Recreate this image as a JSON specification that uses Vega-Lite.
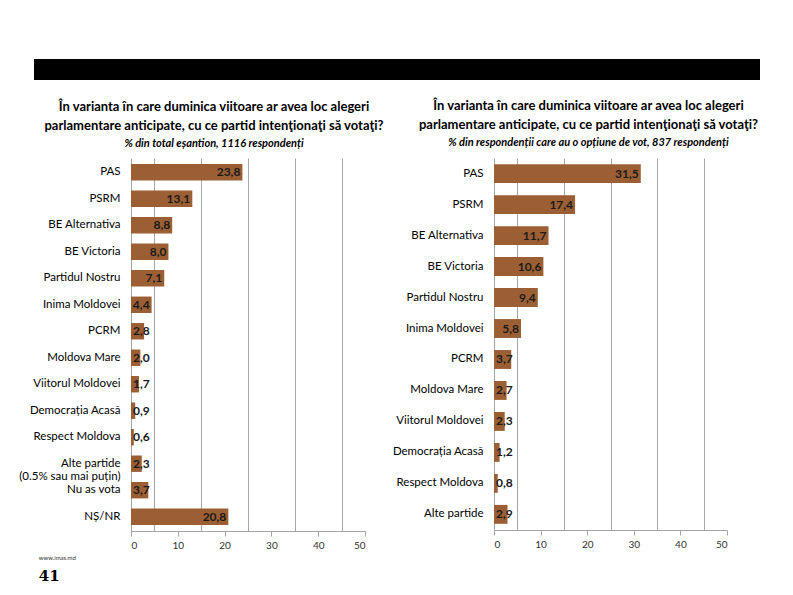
{
  "$schema": "https://vega.github.io/schema/vega-lite/v6.json",
  "background": "white",
  "padding": {"left": 18, "top": 59, "right": 10, "bottom": 5},
  "config": {
    "view": {"stroke": null},
    "font": "Lato",
    "locale": {"number": {"decimal": ",", "thousands": ".", "grouping": [3], "currency": ["", ""]}}
  },
  "datasets": {
    "banner": [{"start": 0, "end": 1}],
    "total": [
      {"party": "PAS", "pct": 23.8},
      {"party": "PSRM", "pct": 13.1},
      {"party": "BE Alternativa", "pct": 8.8},
      {"party": "BE Victoria", "pct": 8.0},
      {"party": "Partidul Nostru", "pct": 7.1},
      {"party": "Inima Moldovei", "pct": 4.4},
      {"party": "PCRM", "pct": 2.8},
      {"party": "Moldova Mare", "pct": 2.0},
      {"party": "Viitorul Moldovei", "pct": 1.7},
      {"party": "Democrația Acasă", "pct": 0.9},
      {"party": "Respect Moldova", "pct": 0.6},
      {"party": "Alte partide|(0.5% sau mai puțin)", "pct": 2.3},
      {"party": "Nu as vota", "pct": 3.7},
      {"party": "NȘ/NR", "pct": 20.8}
    ],
    "decided": [
      {"party": "PAS", "pct": 31.5},
      {"party": "PSRM", "pct": 17.4},
      {"party": "BE Alternativa", "pct": 11.7},
      {"party": "BE Victoria", "pct": 10.6},
      {"party": "Partidul Nostru", "pct": 9.4},
      {"party": "Inima Moldovei", "pct": 5.8},
      {"party": "PCRM", "pct": 3.7},
      {"party": "Moldova Mare", "pct": 2.7},
      {"party": "Viitorul Moldovei", "pct": 2.3},
      {"party": "Democrația Acasă", "pct": 1.2},
      {"party": "Respect Moldova", "pct": 0.8},
      {"party": "Alte partide", "pct": 2.9}
    ]
  },
  "columns": 1,
  "align": "none",
  "spacing": 20,
  "concat": [
    {
      "data": {"name": "banner"},
      "width": 629,
      "height": 21,
      "mark": {"type": "rect", "color": "black"},
      "encoding": {
        "x": {"field": "start", "type": "quantitative", "scale": {"domain": [0.13361, 1], "nice": false, "zero": false}, "axis": null},
        "x2": {"field": "end"}
      }
    },
    {
      "spacing": 7,
      "title": {
        "text": "www.imas.md",
        "subtitle": "41",
        "orient": "bottom",
        "anchor": "start",
        "frame": "bounds",
        "fontSize": 6,
        "fontWeight": "normal",
        "color": "#333333",
        "subtitleFont": "DejaVu Serif",
        "subtitleFontSize": 15,
        "subtitleFontWeight": "bold",
        "subtitleColor": "#000000",
        "subtitlePadding": 8,
        "dx": 20,
        "offset": 5
      },
      "hconcat": [
        {
          "data": {"name": "total"},
          "width": 234,
          "height": 373,
          "title": {
            "text": ["În varianta în care duminica viitoare ar avea loc alegeri", "parlamentare anticipate, cu ce partid intenţionaţi să votaţi?"],
            "subtitle": "% din total eșantion, 1116 respondenți",
            "anchor": "middle",
            "frame": "group",
            "dx": -34,
            "fontSize": 13,
            "fontWeight": "bold",
            "lineHeight": 19,
            "color": "#000000",
            "subtitleFontSize": 11,
            "subtitleFontStyle": "italic",
            "subtitleFontWeight": "bold",
            "subtitleColor": "#000000",
            "subtitlePadding": 5,
            "offset": 9
          },
          "encoding": {
            "y": {
              "field": "party",
              "type": "nominal",
              "sort": null,
              "scale": {"paddingInner": 0.38, "paddingOuter": 0.23},
              "axis": {
                "title": null,
                "ticks": false,
                "domain": true,
                "domainColor": "#a6a6a6",
                "labelFontSize": 11.5,
                "labelColor": "#000000",
                "labelPadding": 11,
                "labelLineHeight": 13,
                "labelExpr": "split(datum.label, '|')"
              }
            }
          },
          "resolve": {"axis": {"x": "independent"}},
          "layer": [
            {
              "mark": {"type": "bar", "color": "#9c5f34"},
              "encoding": {
                "x": {
                  "field": "pct",
                  "type": "quantitative",
                  "scale": {"domain": [0, 50], "nice": false},
                  "axis": {
                    "orient": "bottom",
                    "values": [0, 10, 20, 30, 40, 50],
                    "grid": false,
                    "title": null,
                    "domainColor": "#a6a6a6",
                    "tickColor": "#a6a6a6",
                    "tickSize": 5,
                    "labelFontSize": 10,
                    "labelColor": "#333333",
                    "labelPadding": 4
                  }
                }
              }
            },
            {
              "transform": [{"filter": "datum.pct >= 4"}],
              "mark": {"type": "text", "align": "right", "dx": -2, "fontSize": 12, "fontWeight": "bold", "color": "#1a1a1a"},
              "encoding": {
                "x": {
                  "field": "pct",
                  "type": "quantitative",
                  "axis": {
                    "orient": "top",
                    "values": [5, 15, 25, 35, 45],
                    "grid": true,
                    "gridColor": "#a6a6a6",
                    "gridWidth": 1,
                    "labels": false,
                    "ticks": false,
                    "domain": false,
                    "title": null
                  }
                },
                "text": {"field": "pct", "type": "quantitative", "format": ".1f"}
              }
            },
            {
              "transform": [{"filter": "datum.pct < 4"}],
              "mark": {"type": "text", "align": "left", "dx": 2, "fontSize": 12, "fontWeight": "bold", "color": "#1a1a1a"},
              "encoding": {
                "x": {"datum": 0, "type": "quantitative", "axis": null},
                "text": {"field": "pct", "type": "quantitative", "format": ".1f"}
              }
            }
          ]
        },
        {
          "data": {"name": "decided"},
          "width": 233,
          "height": 372,
          "title": {
            "text": ["În varianta în care duminica viitoare ar avea loc alegeri", "parlamentare anticipate, cu ce partid intenţionaţi să votaţi?"],
            "subtitle": "% din respondenții care au o opțiune de vot, 837 respondenți",
            "anchor": "middle",
            "frame": "group",
            "dx": -22,
            "fontSize": 13,
            "fontWeight": "bold",
            "lineHeight": 19,
            "color": "#000000",
            "subtitleFontSize": 11,
            "subtitleFontStyle": "italic",
            "subtitleFontWeight": "bold",
            "subtitleColor": "#000000",
            "subtitlePadding": 5,
            "offset": 10
          },
          "encoding": {
            "y": {
              "field": "party",
              "type": "nominal",
              "sort": null,
              "scale": {"paddingInner": 0.39, "paddingOuter": 0.2},
              "axis": {
                "title": null,
                "ticks": false,
                "domain": true,
                "domainColor": "#a6a6a6",
                "labelFontSize": 11.5,
                "labelColor": "#000000",
                "labelPadding": 11
              }
            }
          },
          "resolve": {"axis": {"x": "independent"}},
          "layer": [
            {
              "mark": {"type": "bar", "color": "#9c5f34"},
              "encoding": {
                "x": {
                  "field": "pct",
                  "type": "quantitative",
                  "scale": {"domain": [0, 50], "nice": false},
                  "axis": {
                    "orient": "bottom",
                    "values": [0, 10, 20, 30, 40, 50],
                    "grid": false,
                    "title": null,
                    "domainColor": "#a6a6a6",
                    "tickColor": "#a6a6a6",
                    "tickSize": 5,
                    "labelFontSize": 10,
                    "labelColor": "#333333",
                    "labelPadding": 4
                  }
                }
              }
            },
            {
              "transform": [{"filter": "datum.pct >= 4"}],
              "mark": {"type": "text", "align": "right", "dx": -2, "fontSize": 12, "fontWeight": "bold", "color": "#1a1a1a"},
              "encoding": {
                "x": {
                  "field": "pct",
                  "type": "quantitative",
                  "axis": {
                    "orient": "top",
                    "values": [5, 15, 25, 35, 45],
                    "grid": true,
                    "gridColor": "#a6a6a6",
                    "gridWidth": 1,
                    "labels": false,
                    "ticks": false,
                    "domain": false,
                    "title": null
                  }
                },
                "text": {"field": "pct", "type": "quantitative", "format": ".1f"}
              }
            },
            {
              "transform": [{"filter": "datum.pct < 4"}],
              "mark": {"type": "text", "align": "left", "dx": 2, "fontSize": 12, "fontWeight": "bold", "color": "#1a1a1a"},
              "encoding": {
                "x": {"datum": 0, "type": "quantitative", "axis": null},
                "text": {"field": "pct", "type": "quantitative", "format": ".1f"}
              }
            }
          ]
        }
      ]
    }
  ]
}
